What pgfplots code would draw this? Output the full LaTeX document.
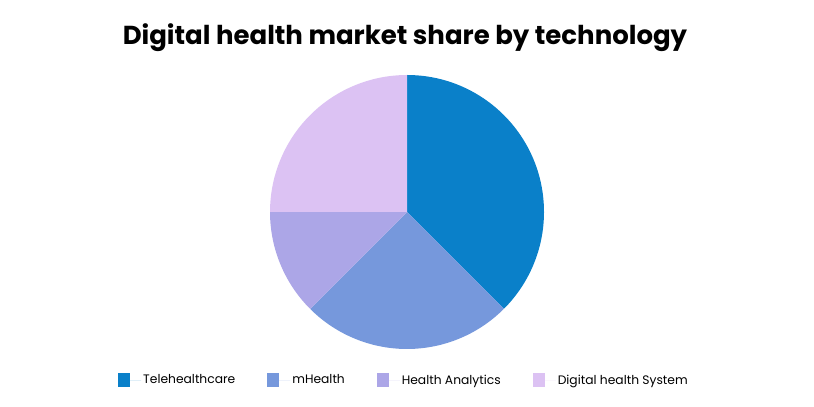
\documentclass[border=0pt]{standalone}
\usepackage{pgfplots}
\pgfplotsset{compat=1.18}
\usepackage{fontspec}
\setmainfont{Poppins}
\definecolor{c1}{HTML}{0A80C9}
\definecolor{c2}{HTML}{7698DC}
\definecolor{c3}{HTML}{ACA6E7}
\definecolor{c4}{HTML}{DCC2F3}
\pgfplotsset{sqlegend/.style={legend image code/.code={\fill[##1] (0pt,-7pt) rectangle (12pt,7pt);\path (0pt,0pt) -- (23pt,0pt);}}}
\begin{document}
\begin{tikzpicture}
% shares (percent)
\def\vA{37.5}\def\vB{25}\def\vC{12.5}\def\vD{25}
\pgfmathsetmacro\aA{90}
\pgfmathsetmacro\aB{\aA-3.6*\vA}
\pgfmathsetmacro\aC{\aB-3.6*\vB}
\pgfmathsetmacro\aD{\aC-3.6*\vC}
\pgfmathsetmacro\aE{\aD-3.6*\vD}
\begin{axis}[
  width=814pt, height=407pt, scale only axis,
  xmin=0, xmax=814, ymin=0, ymax=407, enlargelimits=false,
  hide axis, clip=false,
  title={\bfseries\fontsize{26}{30}\selectfont Digital health market share by technology},
  title style={at={(0.4975,0.892)}, anchor=center},
  legend columns=4,
  legend style={at={(0.4963,0.066)}, anchor=center, draw=none, fill=none,
    font=\fontsize{12.3}{15}\selectfont,
    /tikz/every even column/.append style={column sep=30pt}},
]
\path (axis cs:0,0) rectangle (axis cs:814,407);
\fill[c1] (axis cs:407,195) -- ([shift={(\aA:137pt)}]axis cs:407,195) arc[start angle=\aA, end angle=\aB, radius=137pt] -- cycle;
\fill[c2] (axis cs:407,195) -- ([shift={(\aB:137pt)}]axis cs:407,195) arc[start angle=\aB, end angle=\aC, radius=137pt] -- cycle;
\fill[c3] (axis cs:407,195) -- ([shift={(\aC:137pt)}]axis cs:407,195) arc[start angle=\aC, end angle=\aD, radius=137pt] -- cycle;
\fill[c4] (axis cs:407,195) -- ([shift={(\aD:137pt)}]axis cs:407,195) arc[start angle=\aD, end angle=\aE, radius=137pt] -- cycle;
\addlegendimage{sqlegend, fill=c1, draw=none}
\addlegendentry{Telehealthcare}
\addlegendimage{sqlegend, fill=c2, draw=none}
\addlegendentry{mHealth}
\addlegendimage{sqlegend, fill=c3, draw=none}
\addlegendentry{Health Analytics}
\addlegendimage{sqlegend, fill=c4, draw=none}
\addlegendentry{Digital health System}
\end{axis}
\end{tikzpicture}
\end{document}
